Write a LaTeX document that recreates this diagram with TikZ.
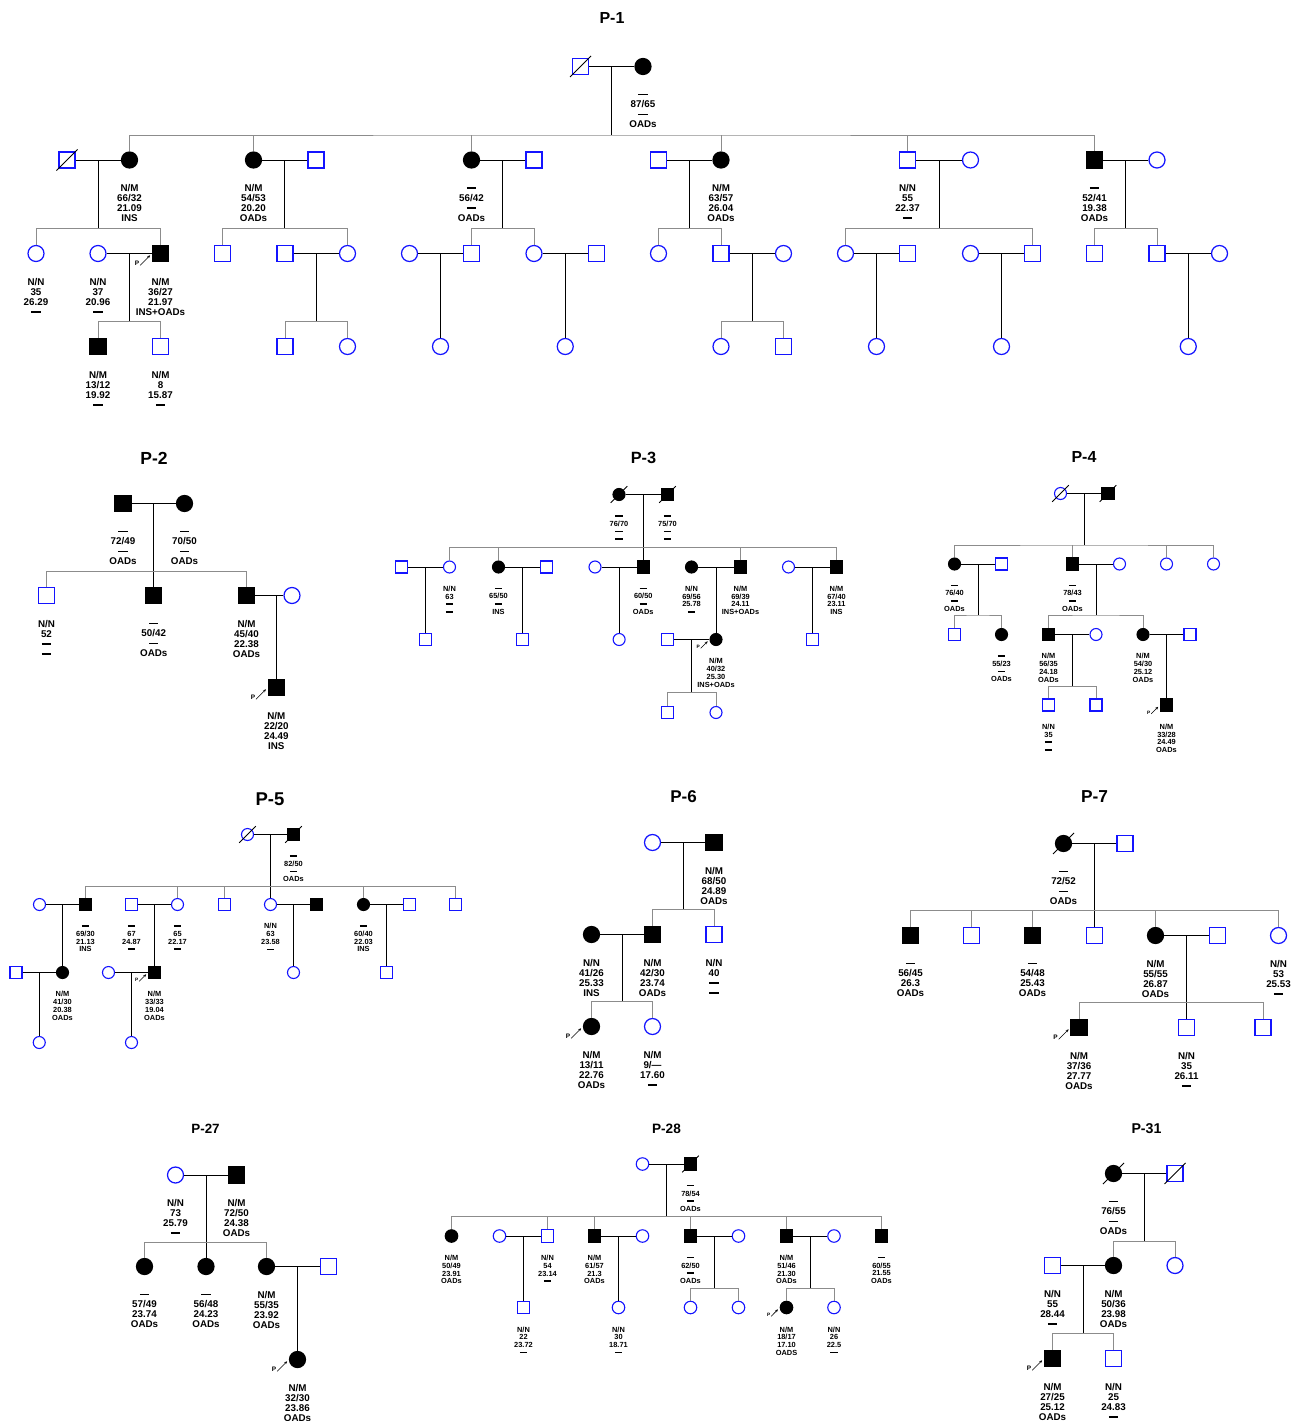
\documentclass[tikz,border=0pt]{standalone}
\usepackage{fontspec}
\setmainfont{Liberation Sans}
\usepackage{tikz}
\usetikzlibrary{positioning,arrows.meta}
\definecolor{azulp}{RGB}{20,20,255}
\definecolor{gris55}{gray}{.55}
\newcommand\labbig{\fontsize{9.8}{10}\selectfont\bfseries}
\newcommand\labsmall{\fontsize{7.4}{7.7}\selectfont\bfseries}
\newcommand\lb[4]{\vphantom{N}#1\\#2\\#3\\#4}
\newcommand\ds{\rule[.27em]{.95em}{.18em}}

\begin{document}
\begin{tikzpicture}[
    x=1pt, y=-1pt,
    node distance=15.9pt,
    sym/.style={inner sep=0pt, minimum size=16pt, line width=1.25pt},
    male/.style={sym, rectangle, draw=azulp, fill=white},
    maleA/.style={sym, rectangle, draw=black, fill=black},
    fem/.style={sym, circle, draw=azulp, fill=white},
    femA/.style={sym, circle, draw=black, fill=black},
    decl/.style={draw=black, line width=.8pt},
    dead/.style={append after command={\pgfextra{\let\dnode\tikzlastnode}
        ([shift={(-#1,#1)}]\dnode.center) edge[decl] ([shift={(#1,-#1)}]\dnode.center)}},
    dead/.default=10.5,
    mline/.style={draw=black, line width=.9pt},
    sline/.style={draw=gris55, line width=.9pt},
    lab/.style={font=\labbig, align=center, inner sep=0pt},
    ttl/.style={font=\fontsize{#1}{#1}\selectfont\bfseries, inner sep=0pt},
    pmark/.style={font=\fontsize{6.5}{7}\selectfont\bfseries, inner sep=0pt, anchor=south east},
    parrow/.style={-{Stealth[length=3pt, width=2.6pt]}, line width=.6pt,
      shorten <=1pt, shorten >=2.5pt},
    smallped/.style={sym/.append style={minimum size=12pt, line width=1.1pt},
      lab/.append style={font=\labsmall}, node distance=12.3pt,
      pmark/.append style={font=\fontsize{4.8}{5}\selectfont\bfseries}}
  ]
  \fill[white] (0,0) rectangle (1301,1421);
  \useasboundingbox (0,0) rectangle (1301,1421);

  % ---------- P-1
  \node[ttl=16] (t1) at (612,18) {P-1};
  \node[male, dead] (a1a) at (580.5,66.5) {};
  \node[femA] (a1b) at (643,66.5) {};
  \node[lab, below=of a1b] (a1bL) {\lb{\ds}{87/65}{\ds}{OADs}};
  \draw[mline] (a1a) -- coordinate (a1mate) (a1b);
  \coordinate (a1sib) at (a1mate |- 0,135);
  \draw[mline] (a1mate) -- (a1sib);

  \node[male, dead] (a2a) at (67,160) {};
  \node[femA] (a2b) at (129.5,160) {};
  \node[femA] (a2c) at (253.5,160) {};
  \node[male] (a2d) at (316,160) {};
  \node[femA] (a2e) at (471.5,160) {};
  \node[male] (a2f) at (534,160) {};
  \node[male] (a2g) at (658.5,160) {};
  \node[femA] (a2h) at (721,160) {};
  \node[male] (a2i) at (907.5,160) {};
  \node[fem] (a2j) at (970.5,160) {};
  \node[maleA] (a2k) at (1094.5,160) {};
  \node[fem] (a2l) at (1157,160) {};
  \draw[sline] (a2b.north) |- (a1sib) -| (a2k.north);
  \foreach \k in {a2c,a2e,a2h,a2i} \draw[sline] (\k.north) -- (\k |- a1sib);
  \node[lab, below=of a2b] (a2bL) {\lb{N/M}{66/32}{21.09}{INS}};
  \node[lab, below=of a2c] (a2cL) {\lb{N/M}{54/53}{20.20}{OADs}};
  \node[lab, below=of a2e] (a2eL) {\lb{\ds}{56/42}{\ds}{OADs}};
  \node[lab, below=of a2h] (a2hL) {\lb{N/M}{63/57}{26.04}{OADs}};
  \node[lab, below=of a2i] (a2iL) {\lb{N/N}{55}{22.37}{\ds}};
  \node[lab, below=of a2k] (a2kL) {\lb{\ds}{52/41}{19.38}{OADs}};
  \draw[mline] (a2a) -- coordinate (a2mate1) (a2b);
  \draw[mline] (a2c) -- coordinate (a2mate2) (a2d);
  \draw[mline] (a2e) -- coordinate (a2mate3) (a2f);
  \draw[mline] (a2g) -- coordinate (a2mate4) (a2h);
  \draw[mline] (a2i) -- coordinate (a2mate5) (a2j);
  \draw[mline] (a2k) -- coordinate (a2mate6) (a2l);
  \foreach \i in {1,...,6} {
    \coordinate (a2sib\i) at (a2mate\i |- 0,228.5);
    \draw[mline] (a2mate\i) -- (a2sib\i);
  }

  \node[fem] (a3a) at (36,253.5) {};
  \node[fem] (a3b) at (98,253.5) {};
  \node[maleA] (a3c) at (160.5,253.5) {};
  \node[male] (a3d) at (222.5,253.5) {};
  \node[male] (a3e) at (285,253.5) {};
  \node[fem] (a3f) at (347.5,253.5) {};
  \node[fem] (a3g) at (409.5,253.5) {};
  \node[male] (a3h) at (471.5,253.5) {};
  \node[fem] (a3i) at (534,253.5) {};
  \node[male] (a3j) at (596.5,253.5) {};
  \node[fem] (a3k) at (658.5,253.5) {};
  \node[male] (a3l) at (721,253.5) {};
  \node[fem] (a3m) at (783.5,253.5) {};
  \node[fem] (a3n) at (845.5,253.5) {};
  \node[male] (a3o) at (907.5,253.5) {};
  \node[fem] (a3p) at (970.5,253.5) {};
  \node[male] (a3q) at (1032.5,253.5) {};
  \node[male] (a3r) at (1094.5,253.5) {};
  \node[male] (a3s) at (1157,253.5) {};
  \node[fem] (a3t) at (1219.5,253.5) {};
  \draw[sline] (a3a.north) |- (a2sib1) -| (a3c.north);
  \draw[sline] (a3d.north) |- (a2sib2) -| (a3f.north);
  \draw[sline] (a3h.north) |- (a2sib3) -| (a3i.north);
  \draw[sline] (a3k.north) |- (a2sib4) -| (a3l.north);
  \draw[sline] (a3n.north) |- (a2sib5) -| (a3q.north);
  \draw[sline] (a3r.north) |- (a2sib6) -| (a3s.north);
  \node[lab, below=of a3a] (a3aL) {\lb{N/N}{35}{26.29}{\ds}};
  \node[lab, below=of a3b] (a3bL) {\lb{N/N}{37}{20.96}{\ds}};
  \node[lab, below=of a3c] (a3cL) {\lb{N/M}{36/27}{21.97}{INS+OADs}};
  \node[pmark] (a3cP) at ([shift={(-21,12.5)}]a3c.center) {P};
  \draw[parrow] (a3cP.south east) -- (a3c.west);
  \draw[mline] (a3b) -- coordinate (a3mate1) (a3c);
  \draw[mline] (a3e) -- coordinate (a3mate2) (a3f);
  \draw[mline] (a3g) -- coordinate (a3mate3) (a3h);
  \draw[mline] (a3i) -- coordinate (a3mate4) (a3j);
  \draw[mline] (a3l) -- coordinate (a3mate5) (a3m);
  \draw[mline] (a3n) -- coordinate (a3mate6) (a3o);
  \draw[mline] (a3p) -- coordinate (a3mate7) (a3q);
  \draw[mline] (a3s) -- coordinate (a3mate8) (a3t);
  \foreach \i in {1,2,5} {
    \coordinate (a3sib\i) at (a3mate\i |- 0,321.5);
    \draw[mline] (a3mate\i) -- (a3sib\i);
  }

  \node[maleA] (a4a) at (98,346.5) {};
  \node[male] (a4b) at (160.5,346.5) {};
  \node[male] (a4c) at (285,346.5) {};
  \node[fem] (a4d) at (347.5,346.5) {};
  \node[fem] (a4e) at (a3mate3 |- 0,346.5) {};
  \node[fem] (a4f) at (a3mate4 |- 0,346.5) {};
  \node[fem] (a4g) at (721,346.5) {};
  \node[male] (a4h) at (783.5,346.5) {};
  \node[fem] (a4i) at (a3mate6 |- 0,346.5) {};
  \node[fem] (a4j) at (a3mate7 |- 0,346.5) {};
  \node[fem] (a4k) at (a3mate8 |- 0,346.5) {};
  \draw[sline] (a4a.north) |- (a3sib1) -| (a4b.north);
  \draw[sline] (a4c.north) |- (a3sib2) -| (a4d.north);
  \draw[sline] (a4g.north) |- (a3sib5) -| (a4h.north);
  \foreach \k/\m in {a4e/3,a4f/4,a4i/6,a4j/7,a4k/8} \draw[mline] (a3mate\m) -- (\k);
  \node[lab, below=of a4a] (a4aL) {\lb{N/M}{13/12}{19.92}{\ds}};
  \node[lab, below=of a4b] (a4bL) {\lb{N/M}{8}{15.87}{\ds}};

  % ---------- P-2
  \node[ttl=17.5] (t2) at (154,458) {P-2};
  \node[maleA] (b1a) at (123,503.5) {};
  \node[femA] (b1b) at (184.5,503.5) {};
  \node[lab, below=of b1a] (b1aL) {\lb{\ds}{72/49}{\ds}{OADs}};
  \node[lab, below=of b1b] (b1bL) {\lb{\ds}{70/50}{\ds}{OADs}};
  \draw[mline] (b1a) -- coordinate (b1mate) (b1b);
  \coordinate (b1sib) at (b1mate |- 0,571.5);
  \node[male] (b2a) at (46.5,595.5) {};
  \node[maleA] (b2b) at (b1mate |- 0,595.5) {};
  \node[maleA] (b2c) at (246.5,595.5) {};
  \node[fem] (b2d) at (292,595.5) {};
  \draw[mline] (b1mate) -- (b2b);
  \draw[sline] (b2a.north) |- (b1sib) -| (b2c.north);
  \node[lab, below=of b2a] (b2aL) {\lb{N/N}{52}{\ds}{\ds}};
  \node[lab, below=of b2b] (b2bL) {\lb{\ds}{50/42}{\ds}{OADs}};
  \node[lab, below=of b2c] (b2cL) {\lb{N/M}{45/40}{22.38}{OADs}};
  \draw[mline] (b2c) -- coordinate[pos=.75] (b2mate) (b2d);
  \node[maleA] (b3a) at (b2mate |- 0,687.5) {};
  \draw[mline] (b2mate) -- (b3a);
  \node[lab, below=of b3a] (b3aL) {\lb{N/M}{22/20}{24.49}{INS}};
  \node[pmark] (b3aP) at ([shift={(-21,12.5)}]b3a.center) {P};
  \draw[parrow] (b3aP.south east) -- (b3a.west);

  % ---------- P-3
  \begin{scope}[smallped]
  \node[ttl=16.3] (t3) at (643.5,458) {P-3};
  \node[femA, dead=8.3] (c1a) at (619,494.5) {};
  \node[maleA, dead=8.3] (c1b) at (667.5,494.5) {};
  \node[lab, below=of c1a] (c1aL) {\lb{\ds}{76/70}{\ds}{\ds}};
  \node[lab, below=of c1b] (c1bL) {\lb{\ds}{75/70}{\ds}{\ds}};
  \draw[mline] (c1a) -- coordinate (c1mate) (c1b);
  \coordinate (c1sib) at (c1mate |- 0,547.5);
  \node[male] (c2a) at (401.5,567) {};
  \node[fem] (c2b) at (449.5,567) {};
  \node[femA] (c2c) at (498.5,567) {};
  \node[male] (c2d) at (546.5,567) {};
  \node[fem] (c2e) at (595,567) {};
  \node[maleA] (c2f) at (c1mate |- 0,567) {};
  \node[femA] (c2g) at (691.5,567) {};
  \node[maleA] (c2h) at (740.5,567) {};
  \node[fem] (c2i) at (788.5,567) {};
  \node[maleA] (c2j) at (836.5,567) {};
  \draw[mline] (c1mate) -- (c2f);
  \draw[sline] (c2b.north) |- (c1sib) -| (c2j.north);
  \foreach \k in {c2c,c2h} \draw[sline] (\k.north) -- (\k |- c1sib);
  \node[lab, below=of c2b] (c2bL) {\lb{N/N}{63}{\ds}{\ds}};
  \node[lab, below=of c2c] (c2cL) {\lb{\ds}{65/50}{\ds}{INS}};
  \node[lab, below=of c2f] (c2fL) {\lb{\ds}{60/50}{\ds}{OADs}};
  \node[lab, below=of c2g] (c2gL) {\lb{N/N}{69/56}{25.78}{\ds}};
  \node[lab, below=of c2h] (c2hL) {\lb{N/M}{69/39}{24.11}{INS+OADs}};
  \node[lab, below=of c2j] (c2jL) {\lb{N/M}{67/40}{23.11}{INS}};
  \draw[mline] (c2a) -- coordinate (c2mate1) (c2b);
  \draw[mline] (c2c) -- coordinate (c2mate2) (c2d);
  \draw[mline] (c2e) -- coordinate (c2mate3) (c2f);
  \draw[mline] (c2g) -- coordinate (c2mate4) (c2h);
  \draw[mline] (c2i) -- coordinate (c2mate5) (c2j);
  \node[male] (c3a) at (c2mate1 |- 0,639.5) {};
  \node[male] (c3b) at (c2mate2 |- 0,639.5) {};
  \node[fem] (c3c) at (c2mate3 |- 0,639.5) {};
  \node[male] (c3d) at (667.5,639.5) {};
  \node[femA] (c3e) at (c2mate4 |- 0,639.5) {};
  \node[male] (c3f) at (c2mate5 |- 0,639.5) {};
  \foreach \k/\m in {c3a/1,c3b/2,c3c/3,c3e/4,c3f/5} \draw[mline] (c2mate\m) -- (\k);
  \node[lab, below=of c3e] (c3eL) {\lb{N/M}{40/32}{25.30}{INS+OADs}};
  \node[pmark] (c3eP) at ([shift={(-16,9.5)}]c3e.center) {P};
  \draw[parrow] (c3eP.south east) -- (c3e.west);
  \draw[mline] (c3d) -- coordinate (c3mate) (c3e);
  \coordinate (c3sib) at (c3mate |- 0,692.5);
  \draw[mline] (c3mate) -- (c3sib);
  \node[male] (c4a) at (667.5,712.5) {};
  \node[fem] (c4b) at (716,712.5) {};
  \draw[sline] (c4a.north) |- (c3sib) -| (c4b.north);
  \end{scope}

  % ---------- P-4
  \begin{scope}[smallped]
  \node[ttl=16] (t4) at (1084,457) {P-4};
  \node[fem, dead=8.3] (d1a) at (1060.5,493.5) {};
  \node[maleA, dead=8.3] (d1b) at (1108,493.5) {};
  \draw[mline] (d1a) -- coordinate (d1mate) (d1b);
  \coordinate (d1sib) at (d1mate |- 0,545);
  \draw[mline] (d1mate) -- (d1sib);
  \node[femA] (d2a) at (954.5,564) {};
  \node[male] (d2b) at (1001.5,564) {};
  \node[maleA] (d2c) at (1072.5,564) {};
  \node[fem] (d2d) at (1119.5,564) {};
  \node[fem] (d2e) at (1166.5,564) {};
  \node[fem] (d2f) at (1213.5,564) {};
  \draw[sline] (d2a.north) |- (d1sib) -| (d2f.north);
  \foreach \k in {d2c,d2e} \draw[sline] (\k.north) -- (\k |- d1sib);
  \node[lab, below=of d2a] (d2aL) {\lb{\ds}{76/40}{\ds}{OADs}};
  \node[lab, below=of d2c] (d2cL) {\lb{\ds}{78/43}{\ds}{OADs}};
  \draw[mline] (d2a) -- coordinate (d2mate1) (d2b);
  \draw[mline] (d2c) -- coordinate (d2mate2) (d2d);
  \foreach \i in {1,2} {
    \coordinate (d2sib\i) at (d2mate\i |- 0,615);
    \draw[mline] (d2mate\i) -- (d2sib\i);
  }
  \node[male] (d3a) at (954.5,634.5) {};
  \node[femA] (d3b) at (1001.5,634.5) {};
  \node[maleA] (d3c) at (1048.5,634.5) {};
  \node[fem] (d3d) at (1096,634.5) {};
  \node[femA] (d3e) at (1143,634.5) {};
  \node[male] (d3f) at (1190,634.5) {};
  \draw[sline] (d3a.north) |- (d2sib1) -| (d3b.north);
  \draw[sline] (d3c.north) |- (d2sib2) -| (d3e.north);
  \node[lab, below=of d3b] (d3bL) {\lb{\ds}{55/23}{\ds}{OADs}};
  \node[lab, below=of d3c] (d3cL) {\lb{N/M}{56/35}{24.18}{OADs}};
  \node[lab, below=of d3e] (d3eL) {\lb{N/M}{54/30}{25.12}{OADs}};
  \draw[mline] (d3c) -- coordinate (d3mate1) (d3d);
  \draw[mline] (d3e) -- coordinate (d3mate2) (d3f);
  \coordinate (d3sib1) at (d3mate1 |- 0,686.5);
  \draw[mline] (d3mate1) -- (d3sib1);
  \node[male] (d4a) at (1048.5,705) {};
  \node[male] (d4b) at (1096,705) {};
  \node[maleA] (d4c) at (d3mate2 |- 0,705) {};
  \draw[sline] (d4a.north) |- (d3sib1) -| (d4b.north);
  \draw[mline] (d3mate2) -- (d4c);
  \node[lab, below=of d4a] (d4aL) {\lb{N/N}{35}{\ds}{\ds}};
  \node[lab, below=of d4c] (d4cL) {\lb{N/M}{33/28}{24.49}{OADs}};
  \node[pmark] (d4cP) at ([shift={(-16,9.5)}]d4c.center) {P};
  \draw[parrow] (d4cP.south east) -- (d4c.west);
  \end{scope}

  % ---------- P-5
  \begin{scope}[smallped]
  \node[ttl=18.5] (t5) at (270,799.5) {P-5};
  \node[fem, dead=8.3] (e1a) at (247.5,834.5) {};
  \node[maleA, dead=8.3] (e1b) at (293.5,834.5) {};
  \node[lab, below=of e1b] (e1bL) {\lb{\ds}{82/50}{\ds}{OADs}};
  \draw[mline] (e1a) -- coordinate (e1mate) (e1b);
  \coordinate (e1sib) at (e1mate |- 0,886);
  \node[fem] (e2a) at (39.5,904.5) {};
  \node[maleA] (e2b) at (85.5,904.5) {};
  \node[male] (e2c) at (131.5,904.5) {};
  \node[fem] (e2d) at (177.5,904.5) {};
  \node[male] (e2e) at (224.5,904.5) {};
  \node[fem] (e2f) at (e1mate |- 0,904.5) {};
  \node[maleA] (e2g) at (316.5,904.5) {};
  \node[femA] (e2h) at (363.5,904.5) {};
  \node[male] (e2i) at (409.5,904.5) {};
  \node[male] (e2j) at (455.5,904.5) {};
  \draw[mline] (e1mate) -- (e2f);
  \draw[sline] (e2b.north) |- (e1sib) -| (e2j.north);
  \foreach \k in {e2d,e2e,e2h} \draw[sline] (\k.north) -- (\k |- e1sib);
  \node[lab, below=of e2b] (e2bL) {\lb{\ds}{69/30}{21.13}{INS}};
  \node[lab, below=of e2c] (e2cL) {\lb{\ds}{67}{24.87}{\ds}};
  \node[lab, below=of e2d] (e2dL) {\lb{\ds}{65}{22.17}{\ds}};
  \node[lab, below=of e2f] (e2fL) {\lb{N/N}{63}{23.58}{\ds}};
  \node[lab, below=of e2h] (e2hL) {\lb{\ds}{60/40}{22.03}{INS}};
  \draw[mline] (e2a) -- coordinate (e2mate1) (e2b);
  \draw[mline] (e2c) -- coordinate (e2mate2) (e2d);
  \draw[mline] (e2f) -- coordinate (e2mate3) (e2g);
  \draw[mline] (e2h) -- coordinate (e2mate4) (e2i);
  \node[male] (e3a) at (16,972.5) {};
  \node[femA] (e3b) at (e2mate1 |- 0,972.5) {};
  \node[fem] (e3c) at (108.5,972.5) {};
  \node[maleA] (e3d) at (e2mate2 |- 0,972.5) {};
  \node[fem] (e3e) at (e2mate3 |- 0,972.5) {};
  \node[male] (e3f) at (e2mate4 |- 0,972.5) {};
  \foreach \k/\m in {e3b/1,e3d/2,e3e/3,e3f/4} \draw[mline] (e2mate\m) -- (\k);
  \node[lab, below=of e3b] (e3bL) {\lb{N/M}{41/30}{20.38}{OADs}};
  \node[lab, below=of e3d] (e3dL) {\lb{N/M}{33/33}{19.04}{OADs}};
  \node[pmark] (e3dP) at ([shift={(-16,9.5)}]e3d.center) {P};
  \draw[parrow] (e3dP.south east) -- (e3d.west);
  \draw[mline] (e3a) -- coordinate (e3mate1) (e3b);
  \draw[mline] (e3c) -- coordinate (e3mate2) (e3d);
  \node[fem] (e4a) at (e3mate1 |- 0,1042.5) {};
  \node[fem] (e4b) at (e3mate2 |- 0,1042.5) {};
  \draw[mline] (e3mate1) -- (e4a);
  \draw[mline] (e3mate2) -- (e4b);
  \end{scope}

  % ---------- P-6
  \node[ttl=17] (t6) at (683.5,797) {P-6};
  \node[fem] (f1a) at (652.5,842.5) {};
  \node[maleA] (f1b) at (714,842.5) {};
  \node[lab, below=of f1b] (f1bL) {\lb{N/M}{68/50}{24.89}{OADs}};
  \draw[mline] (f1a) -- coordinate (f1mate) (f1b);
  \coordinate (f1sib) at (f1mate |- 0,909.5);
  \draw[mline] (f1mate) -- (f1sib);
  \node[femA] (f2a) at (591.5,934.5) {};
  \node[maleA] (f2b) at (652.5,934.5) {};
  \node[male] (f2c) at (714,934.5) {};
  \draw[sline] (f2b.north) |- (f1sib) -| (f2c.north);
  \node[lab, below=of f2a] (f2aL) {\lb{N/N}{41/26}{25.33}{INS}};
  \node[lab, below=of f2b] (f2bL) {\lb{N/M}{42/30}{23.74}{OADs}};
  \node[lab, below=of f2c] (f2cL) {\lb{N/N}{40}{\ds}{\ds}};
  \draw[mline] (f2a) -- coordinate (f2mate) (f2b);
  \coordinate (f2sib) at (f2mate |- 0,1001.5);
  \draw[mline] (f2mate) -- (f2sib);
  \node[femA] (f3a) at (591.5,1026.5) {};
  \node[fem] (f3b) at (652.5,1026.5) {};
  \draw[sline] (f3a.north) |- (f2sib) -| (f3b.north);
  \node[lab, below=of f3a] (f3aL) {\lb{N/M}{13/11}{22.76}{OADs}};
  \node[lab, below=of f3b] (f3bL) {\lb{N/M}{9/---}{17.60}{\ds}};
  \node[pmark] (f3aP) at ([shift={(-21,12.5)}]f3a.center) {P};
  \draw[parrow] (f3aP.south east) -- (f3a.west);

  % ---------- P-7
  \node[ttl=17.3] (t7) at (1094.5,797) {P-7};
  \node[femA, dead] (g1a) at (1063.5,843.5) {};
  \node[male] (g1b) at (1125,843.5) {};
  \node[lab, below=of g1a] (g1aL) {\lb{\ds}{72/52}{\ds}{OADs}};
  \draw[mline] (g1a) -- coordinate (g1mate) (g1b);
  \coordinate (g1sib) at (g1mate |- 0,910.5);
  \node[maleA] (g2a) at (910.5,935.5) {};
  \node[male] (g2b) at (971.5,935.5) {};
  \node[maleA] (g2c) at (1032.5,935.5) {};
  \node[male] (g2d) at (g1mate |- 0,935.5) {};
  \node[femA] (g2e) at (1155.5,935.5) {};
  \node[male] (g2f) at (1217.5,935.5) {};
  \node[fem] (g2g) at (1278.5,935.5) {};
  \draw[mline] (g1mate) -- (g2d);
  \draw[sline] (g2a.north) |- (g1sib) -| (g2g.north);
  \foreach \k in {g2b,g2c,g2e} \draw[sline] (\k.north) -- (\k |- g1sib);
  \node[lab, below=of g2a] (g2aL) {\lb{\ds}{56/45}{26.3}{OADs}};
  \node[lab, below=of g2c] (g2cL) {\lb{\ds}{54/48}{25.43}{OADs}};
  \node[lab, below=of g2e] (g2eL) {\lb{N/M}{55/55}{26.87}{OADs}};
  \node[lab, below=of g2g] (g2gL) {\lb{N/N}{53}{25.53}{\ds}};
  \draw[mline] (g2e) -- coordinate (g2mate) (g2f);
  \coordinate (g2sib) at (g2mate |- 0,1002.5);
  \node[maleA] (g3a) at (1079,1027.5) {};
  \node[male] (g3b) at (g2mate |- 0,1027.5) {};
  \node[male] (g3c) at (1263,1027.5) {};
  \draw[mline] (g2mate) -- (g3b);
  \draw[sline] (g3a.north) |- (g2sib) -| (g3c.north);
  \node[lab, below=of g3a] (g3aL) {\lb{N/M}{37/36}{27.77}{OADs}};
  \node[lab, below=of g3b] (g3bL) {\lb{N/N}{35}{26.11}{\ds}};
  \node[pmark] (g3aP) at ([shift={(-21,12.5)}]g3a.center) {P};
  \draw[parrow] (g3aP.south east) -- (g3a.west);

  % ---------- P-27
  \node[ttl=13.4] (t27) at (205.5,1129) {P-27};
  \node[fem] (h1a) at (175.5,1175) {};
  \node[maleA] (h1b) at (236.5,1175) {};
  \node[lab, below=of h1a] (h1aL) {\lb{N/N}{73}{25.79}{\ds}};
  \node[lab, below=of h1b] (h1bL) {\lb{N/M}{72/50}{24.38}{OADs}};
  \draw[mline] (h1a) -- coordinate (h1mate) (h1b);
  \coordinate (h1sib) at (h1mate |- 0,1242.5);
  \node[femA] (h2a) at (144.5,1266.5) {};
  \node[femA] (h2b) at (h1mate |- 0,1266.5) {};
  \node[femA] (h2c) at (266.5,1266.5) {};
  \node[male] (h2d) at (328.5,1266.5) {};
  \draw[mline] (h1mate) -- (h2b);
  \draw[sline] (h2a.north) |- (h1sib) -| (h2c.north);
  \node[lab, below=of h2a] (h2aL) {\lb{\ds}{57/49}{23.74}{OADs}};
  \node[lab, below=of h2b] (h2bL) {\lb{\ds}{56/48}{24.23}{OADs}};
  \node[lab, below=of h2c] (h2cL) {\lb{N/M}{55/35}{23.92}{OADs}};
  \draw[mline] (h2c) -- coordinate (h2mate) (h2d);
  \node[femA] (h3a) at (h2mate |- 0,1359.5) {};
  \draw[mline] (h2mate) -- (h3a);
  \node[lab, below=of h3a] (h3aL) {\lb{N/M}{32/30}{23.86}{OADs}};
  \node[pmark] (h3aP) at ([shift={(-21,12.5)}]h3a.center) {P};
  \draw[parrow] (h3aP.south east) -- (h3a.west);

  % ---------- P-28
  \begin{scope}[smallped, sym/.append style={minimum size=12.5pt}]
  \node[ttl=13.6] (t28) at (666.5,1128.5) {P-28};
  \node[fem] (k1a) at (642.5,1164) {};
  \node[maleA, dead=8.3] (k1b) at (690.5,1164) {};
  \node[lab, below=of k1b] (k1bL) {\lb{\ds}{78/54}{\ds}{OADs}};
  \draw[mline] (k1a) -- coordinate (k1mate) (k1b);
  \coordinate (k1sib) at (k1mate |- 0,1216.5);
  \draw[mline] (k1mate) -- (k1sib);
  \node[femA] (k2a) at (451.5,1236) {};
  \node[fem] (k2b) at (499.5,1236) {};
  \node[male] (k2c) at (547.5,1236) {};
  \node[maleA] (k2d) at (594.5,1236) {};
  \node[fem] (k2e) at (642.5,1236) {};
  \node[maleA] (k2f) at (690.5,1236) {};
  \node[fem] (k2g) at (738.5,1236) {};
  \node[maleA] (k2h) at (786.5,1236) {};
  \node[fem] (k2i) at (834,1236) {};
  \node[maleA] (k2j) at (881.5,1236) {};
  \draw[sline] (k2a.north) |- (k1sib) -| (k2j.north);
  \foreach \k in {k2c,k2d,k2f,k2h} \draw[sline] (\k.north) -- (\k |- k1sib);
  \node[lab, below=of k2a] (k2aL) {\lb{N/M}{50/49}{23.91}{OADs}};
  \node[lab, below=of k2c] (k2cL) {\lb{N/N}{54}{23.14}{\ds}};
  \node[lab, below=of k2d] (k2dL) {\lb{N/M}{61/57}{21.3}{OADs}};
  \node[lab, below=of k2f] (k2fL) {\lb{\ds}{62/50}{\ds}{OADs}};
  \node[lab, below=of k2h] (k2hL) {\lb{N/M}{51/46}{21.30}{OADs}};
  \node[lab, below=of k2j] (k2jL) {\lb{\ds}{60/55}{21.55}{OADs}};
  \draw[mline] (k2b) -- coordinate (k2mate1) (k2c);
  \draw[mline] (k2d) -- coordinate (k2mate2) (k2e);
  \draw[mline] (k2f) -- coordinate (k2mate3) (k2g);
  \draw[mline] (k2h) -- coordinate (k2mate4) (k2i);
  \foreach \i in {3,4} {
    \coordinate (k2sib\i) at (k2mate\i |- 0,1288.5);
    \draw[mline] (k2mate\i) -- (k2sib\i);
  }
  \node[male] (k3a) at (k2mate1 |- 0,1307.5) {};
  \node[fem] (k3b) at (k2mate2 |- 0,1307.5) {};
  \node[fem] (k3c) at (690.5,1307.5) {};
  \node[fem] (k3d) at (738.5,1307.5) {};
  \node[femA] (k3e) at (786.5,1307.5) {};
  \node[fem] (k3f) at (834,1307.5) {};
  \draw[mline] (k2mate1) -- (k3a);
  \draw[mline] (k2mate2) -- (k3b);
  \draw[sline] (k3c.north) |- (k2sib3) -| (k3d.north);
  \draw[sline] (k3e.north) |- (k2sib4) -| (k3f.north);
  \node[lab, below=of k3a] (k3aL) {\lb{N/N}{22}{23.72}{\ds}};
  \node[lab, below=of k3b] (k3bL) {\lb{N/N}{30}{18.71}{\ds}};
  \node[lab, below=of k3e] (k3eL) {\lb{N/M}{18/17}{17.10}{OADS}};
  \node[lab, below=of k3f] (k3fL) {\lb{N/N}{26}{22.5}{\ds}};
  \node[pmark] (k3eP) at ([shift={(-16,9.5)}]k3e.center) {P};
  \draw[parrow] (k3eP.south east) -- (k3e.west);
  \end{scope}

  % ---------- P-31
  \node[ttl=14.2] (t31) at (1146.5,1128.5) {P-31};
  \node[femA, dead] (l1a) at (1113.5,1173.5) {};
  \node[male, dead] (l1b) at (1175,1173.5) {};
  \node[lab, below=of l1a] (l1aL) {\lb{\ds}{76/55}{\ds}{OADs}};
  \draw[mline] (l1a) -- coordinate (l1mate) (l1b);
  \coordinate (l1sib) at (l1mate |- 0,1241.5);
  \draw[mline] (l1mate) -- (l1sib);
  \node[male] (l2a) at (1052.5,1265.5) {};
  \node[femA] (l2b) at (1113.5,1265.5) {};
  \node[fem] (l2c) at (1175,1265.5) {};
  \draw[sline] (l2b.north) |- (l1sib) -| (l2c.north);
  \node[lab, below=of l2a] (l2aL) {\lb{N/N}{55}{28.44}{\ds}};
  \node[lab, below=of l2b] (l2bL) {\lb{N/M}{50/36}{23.98}{OADs}};
  \draw[mline] (l2a) -- coordinate (l2mate) (l2b);
  \coordinate (l2sib) at (l2mate |- 0,1333.5);
  \draw[mline] (l2mate) -- (l2sib);
  \node[maleA] (l3a) at (1052.5,1358.5) {};
  \node[male] (l3b) at (1113.5,1358.5) {};
  \draw[sline] (l3a.north) |- (l2sib) -| (l3b.north);
  \node[lab, below=of l3a] (l3aL) {\lb{N/M}{27/25}{25.12}{OADs}};
  \node[lab, below=of l3b] (l3bL) {\lb{N/N}{25}{24.83}{\ds}};
  \node[pmark] (l3aP) at ([shift={(-21,12.5)}]l3a.center) {P};
  \draw[parrow] (l3aP.south east) -- (l3a.west);
\end{tikzpicture}
\end{document}
